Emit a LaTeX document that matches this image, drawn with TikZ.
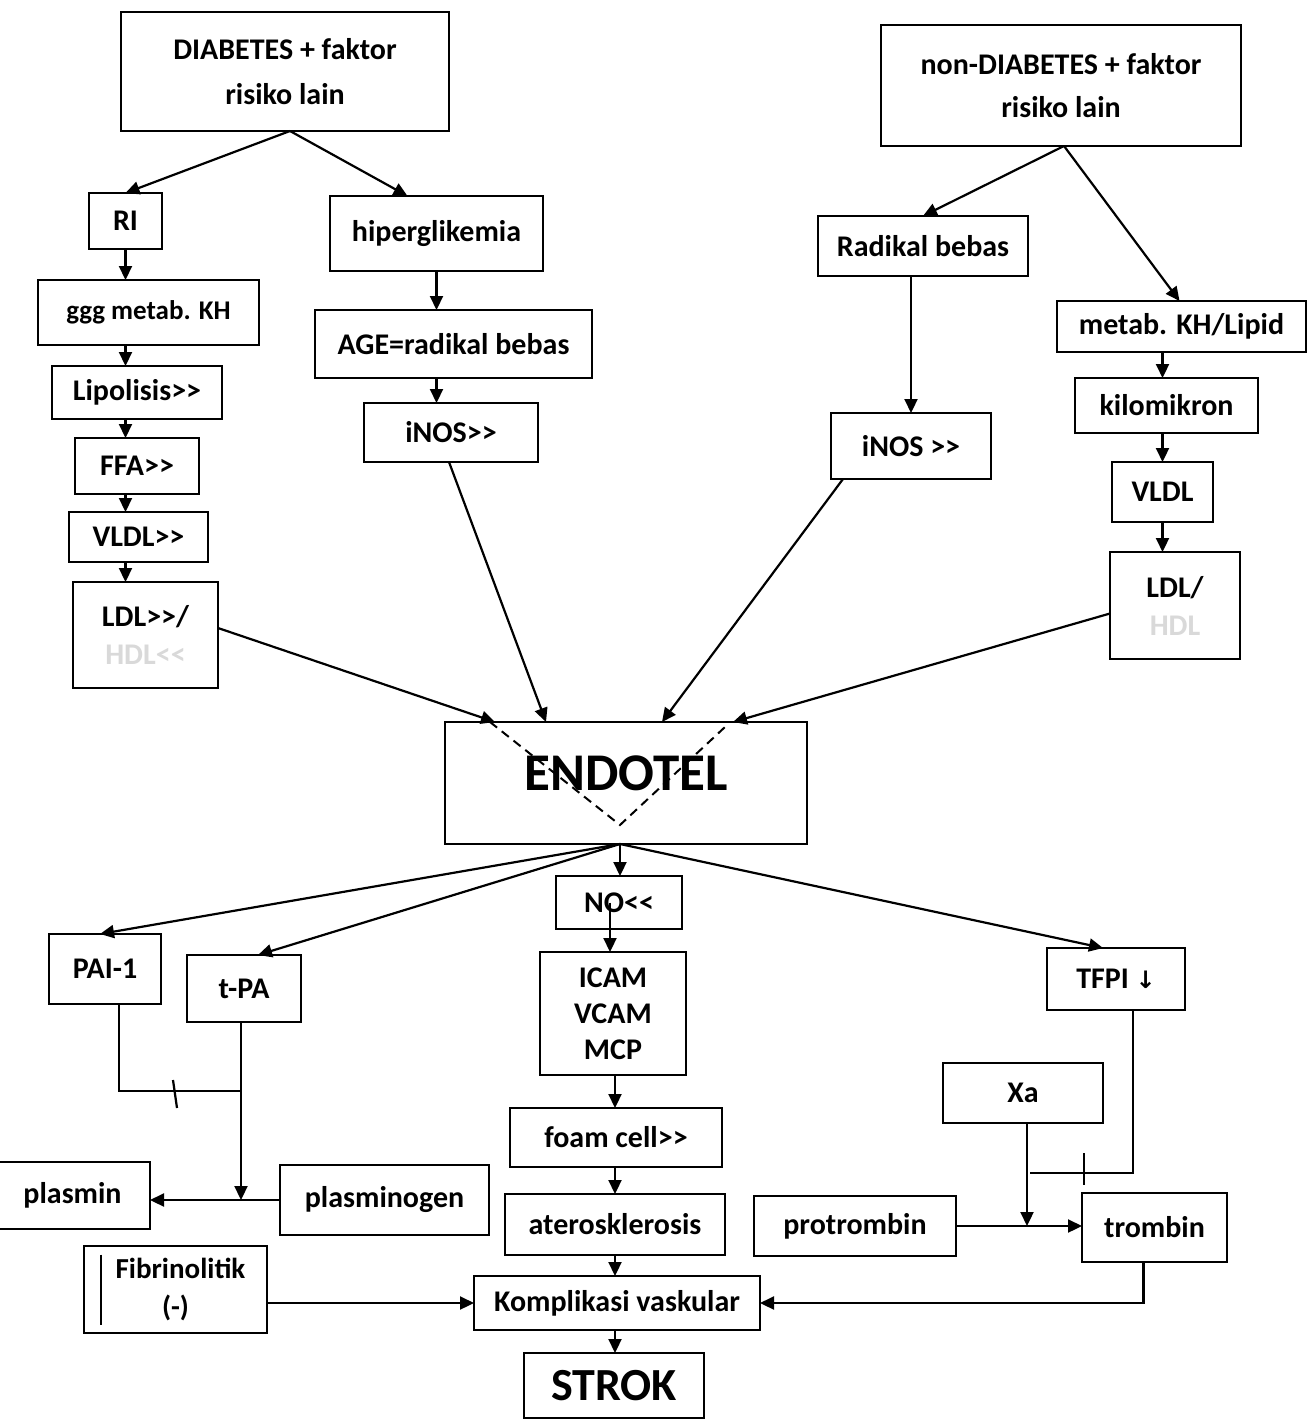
\documentclass[tikz,border=0pt]{standalone}
\usepackage{fontspec}
\setmainfont{Carlito}[Ligatures=TeXOff]
\newfontfamily\symfont{DejaVu Sans}
\usetikzlibrary{arrows.meta,calc}
\tikzset{
  box/.style={draw,line width=2.8pt,align=center,inner sep=0pt,outer sep=0pt,
    font=\bfseries\fontsize{30}{43}\selectfont},
  conn/.style={line width=2.2pt},
  arr/.style={conn,-{Triangle[length=14pt,width=13pt]}},
}
\newcommand\mybox[7][]{\node[box,minimum width={(#5-#3)*1pt},minimum height={(#6-#4)*1pt},#1] (#2) at ({(#3+#5)/2},{(#4+#6)/2}) {#7};}
\begin{document}
\begin{tikzpicture}[x=1pt,y=-1pt]
\path[use as bounding box,fill=white] (0,0) rectangle (1308,1423);
% top
\mybox{dia}{121}{12}{449}{131}{\raisebox{2pt}{DIABETES + faktor}\\ risiko lain}
\mybox{ndia}{881}{25}{1241}{146}{non-DIABETES + faktor\\ risiko lain}
% left column
\mybox{ri}{89}{193}{162}{249}{RI}
\mybox[font=\bfseries\fontsize{27}{34}\selectfont]{ggg}{38}{280}{259}{345}{ggg metab. KH}
\mybox{lip}{52}{366}{222}{419}{Lipolisis>>}
\mybox{ffa}{75}{438}{199}{494}{FFA>>}
\mybox{vldl}{69}{512}{208}{562}{VLDL>>}
\mybox[font=\bfseries\fontsize{30}{38}\selectfont]{ldl}{73}{582}{218}{688}{LDL>>/\\ {\color{black!15}HDL<<}}
% middle left
\mybox{hip}{330}{196}{543}{271}{hiperglikemia}
\mybox{age}{315}{310}{592}{378}{AGE=radikal bebas}
\mybox{inos}{364}{403}{538}{462}{iNOS>>}
% right
\mybox{rad}{818}{216}{1028}{276}{Radikal bebas}
\mybox{inosr}{831}{413}{991}{479}{iNOS >>}
\mybox{met}{1057}{301}{1306}{352}{metab. KH/Lipid}
\mybox{kilo}{1075}{378}{1258}{433}{kilomikron}
\mybox{vldlr}{1112}{462}{1213}{522}{VLDL}
\mybox[font=\bfseries\fontsize{30}{38}\selectfont]{ldlr}{1110}{552}{1240}{659}{LDL/\\ {\color{black!15}HDL}}
% endotel
\mybox[font=\bfseries\fontsize{53}{56}\selectfont]{endo}{445}{722}{807}{844}{\raisebox{20pt}{ENDOTEL}}
% lower
\mybox{no}{556}{876}{682}{929}{NO<<}
\mybox[font=\bfseries\fontsize{30}{36}\selectfont]{icam}{540}{952}{686}{1075}{ICAM\\ VCAM\\ MCP}
\mybox{pai}{49}{934}{161}{1004}{PAI-1}
\mybox{tpa}{187}{955}{301}{1022}{t-PA}
\mybox{tfpi}{1047}{948}{1185}{1010}{TFPI {\symfont\fontsize{24}{28}\selectfont↓}}
\mybox{xa}{943}{1063}{1103}{1123}{Xa}
\mybox{foam}{510}{1108}{722}{1167}{foam cell>>}
\mybox{plasmin}{-5}{1162}{150}{1229}{plasmin}
\mybox{pgen}{280}{1165}{489}{1235}{plasminogen}
\mybox{ater}{505}{1194}{725}{1255}{aterosklerosis}
\mybox{ptr}{754}{1196}{956}{1256}{protrombin}
\mybox{trom}{1082}{1193}{1227}{1262}{trombin}
\mybox[font=\bfseries\fontsize{29}{38}\selectfont]{fib}{84}{1246}{267}{1333}{\hspace*{10pt}Fibrinolitik\\ (-)}
\mybox{komp}{474}{1276}{760}{1330}{Komplikasi vaskular}
\mybox[font=\bfseries\fontsize{46}{50}\selectfont]{strok}{524}{1353}{704}{1418}{STROK}

% top splits
\draw[arr] ([xshift=5]dia.south) -- (ri.north);
\draw[arr] ([xshift=5]dia.south) -- ([xshift=-29]hip.north);
\draw[arr] ([xshift=3]ndia.south) -- (rad.north);
\draw[arr] ([xshift=3]ndia.south) -- ([xshift=-2]met.north);
% left chain
\draw[arr] (ri.south) -- (ri.south |- ggg.north);
\draw[arr] (ri.south |- ggg.south) -- (ri.south |- lip.north);
\draw[arr] (ri.south |- lip.south) -- (ri.south |- ffa.north);
\draw[arr] (ri.south |- ffa.south) -- (ri.south |- vldl.north);
\draw[arr] (ri.south |- vldl.south) -- (ri.south |- ldl.north);
% middle chain
\draw[arr] (hip.south) -- (hip.south |- age.north);
\draw[arr] (hip.south |- age.south) -- (hip.south |- inos.north);
% right chains
\draw[arr] (inosr.north |- rad.south) -- (inosr.north);
\draw[arr] (vldlr.north |- met.south) -- (vldlr.north |- kilo.north);
\draw[arr] (vldlr.north |- kilo.south) -- (vldlr.north);
\draw[arr] (vldlr.south) -- (vldlr.south |- ldlr.north);
% into endotel
\draw[arr] ([yshift=7]ldl.east) -- ([xshift=50]endo.north west);
\draw[arr] ([xshift=-2]inos.south) -- ([xshift=101]endo.north west);
\draw[arr] ([xshift=-68]inosr.south) -- ([xshift=217]endo.north west);
\draw[arr] ([yshift=-8]ldlr.west) -- ([xshift=288]endo.north west);
% dashed V
\draw[line width=2pt,dash pattern=on 9pt off 6pt] ([xshift=45]endo.north west) -- ($(endo.north west)+(175,103)$) -- ($(endo.north west)+(280,5)$);
% out of endotel
\coordinate (eb) at ([xshift=-6]endo.south);
\draw[arr] (eb) -- ([xshift=-5]pai.north);
\draw[arr] (eb) -- ([xshift=14]tpa.north);
\draw[arr] (eb) -- (eb |- no.north);
\draw[arr] (eb) -- ([xshift=-13]tfpi.north);
% center chain
\draw[arr] ([xshift=-9]no.south |- no.center) -- ([xshift=-9]no.south |- icam.north);
\draw[arr] (ater.north |- icam.south) -- (ater.north |- foam.north);
\draw[arr] (ater.north |- foam.south) -- (ater.north);
\draw[arr] (ater.south) -- (ater.south |- komp.north);
\draw[arr] (ater.south |- komp.south) -- (ater.south |- strok.north);
% fibrinolysis
\coordinate (tpab) at ([xshift=-3]tpa.south);
\draw[conn] ([xshift=14]pai.south) |- ($(tpab)+(0,69)$);
\draw[conn] ($(tpab)+(-68,58)$) -- ($(tpab)+(-64,86)$);
\draw[arr] (tpab) -- (tpab |- pgen.west);
\draw[arr] (pgen.west) -- (pgen.west -| plasmin.east);
% coagulation
\coordinate (xab) at ([xshift=4]xa.south);
\draw[arr] (xab) -- (xab |- ptr.east);
\draw[arr] (ptr.east) -- (ptr.east -| trom.west);
\draw[conn] ([xshift=17]tfpi.south) |- ($(xab)+(3,50)$);
\draw[conn] ($(xab)+(57,30)$) -- ($(xab)+(57,62)$);
\draw[arr] ([xshift=-11]trom.south) |- (komp.east);
\draw[arr] (fib.east |- komp.west) -- (komp.west);
\draw[conn] ($(fib.west)+(17,-35)$) -- ($(fib.west)+(17,35)$);
\end{tikzpicture}
\end{document}
